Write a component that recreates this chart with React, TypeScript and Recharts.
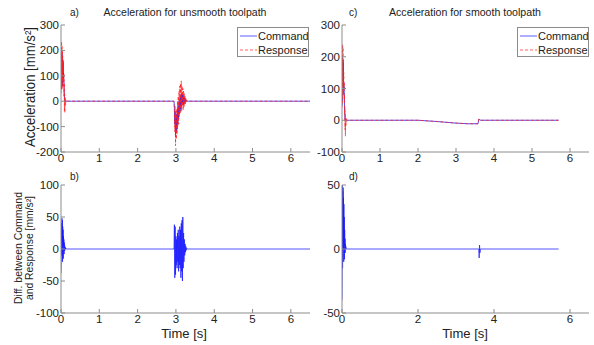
import React from 'react';
import { LineChart, Line, XAxis, YAxis, Legend } from 'recharts';

// time samples of the start-up burst (shared by all four panels)
const startTime = [0, 0.005, 0.01, 0.015, 0.02, 0.025, 0.03, 0.035, 0.04, 0.045, 0.05, 0.055, 0.06, 0.065, 0.07, 0.075, 0.08, 0.085, 0.09, 0.095, 0.1, 0.11, 0.12, 0.13, 0.14];
// time samples of the corner burst in the unsmooth path
const cornerTime = [2.95, 2.96, 2.97, 2.98, 2.99, 3.0, 3.01, 3.02, 3.03, 3.04, 3.05, 3.06, 3.07, 3.08, 3.09, 3.1, 3.11, 3.12, 3.13, 3.14, 3.15, 3.16, 3.17, 3.18, 3.19, 3.2, 3.21, 3.22, 3.23, 3.24, 3.25, 3.26, 3.27, 3.28, 3.29, 3.3];
const unsmoothEnd = [6.5];

// a) unsmooth toolpath acceleration [mm/s²]
const aCommandStart = [60, 180, 50, 200, 70, 190, 90, 170, 60, 150, 100, 160, 90, 110, 100, 80, 60, 30, 10, 0, 2, -1, 0, 0, 0];
const aResponseStart = [30, 210, 40, 235, 60, 220, 80, 200, 50, 180, 90, 150, 120, 140, 60, 110, 20, 70, -40, 30, -45, 15, -15, 5, 0];
const aCommandCorner = [0, -20, -90, -40, -140, -70, -120, -50, -110, -30, -90, -20, -70, 0, -50, 10, -40, 20, -30, 30, -20, 25, -10, 30, -15, 20, -10, 15, -5, 10, -3, 5, 0, 2, 0, 0];
const aResponseCorner = [0, -40, -120, -20, -175, -60, -150, -30, -130, 0, -100, 20, -90, 40, -60, 60, -50, 70, -30, 80, -40, 60, -20, 50, -35, 40, -25, 30, -15, 20, -10, 10, -5, 3, 0, 0];

// b) difference command - response [mm/s²]
const bDiffStart = [-38, -25, 5, 40, -10, 48, 15, 45, -20, 35, 10, 30, -15, 20, 5, 15, -8, 10, -3, 6, -2, 3, 0, 1, 0];
const bDiffCorner = [0, 38, -45, 35, -40, 20, -25, 15, -30, 25, -20, 30, -35, 20, -25, 35, -30, 30, -45, 40, -35, 45, -50, 50, -30, 25, -20, 15, -10, 8, -5, 4, -2, 1, 0, 0];

// c) smooth toolpath acceleration [mm/s²]
const cCommandStart = [45, 150, 60, 195, 80, 190, 100, 180, 95, 120, 100, 105, 90, 60, 30, 10, 0, 3, -2, 1, 0, 0, 0, 0, 0];
const cResponseStart = [40, 200, 50, 240, 70, 230, 90, 190, 80, 150, 100, 120, 60, 80, 20, 40, -30, 20, -50, 10, -20, 5, -5, 0, 0];
const smoothTailTime = [2.0, 2.5, 3.0, 3.3, 3.58, 3.6, 3.65, 5.7];
const cCommandTail = [0, -4, -9, -11, -11, 3, 0, 0];
const cResponseTail = [0, -4, -9, -11, -11, 4, 0, 0];

// d) difference for smooth toolpath [mm/s²]
const dDiffStart = [-40, -20, 50, -15, 45, 10, 48, 0, 40, -10, 35, 5, 25, -8, 15, 3, 8, -3, 4, 0, 2, 0, 0, 0, 0];
const dSpikeTime = [3.6, 3.61, 3.62, 3.63, 3.64, 5.7];
const dDiffSpike = [0, -7, 3, -3, 0, 0];

const ticksA = [-200, -100, 0, 100, 200, 300];
const ticksB = [-100, -50, 0, 50, 100];
const ticksC = [-100, 0, 100, 200, 300];
const ticksD = [-50, 0, 50];
const timeTicks = [0, 1, 2, 3, 4, 5, 6];
const timeTicksD = [0, 2, 4, 6];

const pts = (t: number[], v: number[]) => t.map((x, i) => ({ t: x, v: v[i] }));

const aCommand = pts([...startTime, ...cornerTime, ...unsmoothEnd], [...aCommandStart, ...aCommandCorner, 0]);
const aResponse = pts([...startTime, ...cornerTime, ...unsmoothEnd], [...aResponseStart, ...aResponseCorner, 0]);
const bDiff = pts([...startTime, ...cornerTime, ...unsmoothEnd], [...bDiffStart, ...bDiffCorner, 0]);
const cCommand = pts([...startTime, ...smoothTailTime], [...cCommandStart, ...cCommandTail]);
const cResponse = pts([...startTime, ...smoothTailTime], [...cResponseStart, ...cResponseTail]);
const dDiff = pts([...startTime, ...dSpikeTime], [...dDiffStart, ...dDiffSpike]);

const FONT = '"Liberation Sans", Arial, sans-serif';
const AXIS = '#8c8c8c';
const TXT = '#222';
const BLUE = '#1a1aff';
const RED = '#ff2020';

const BottomTick = (p: any) => (
  <g>
    <line x1={p.x} x2={p.x} y1={p.y} y2={p.y - 4} stroke={AXIS} />
    <text x={p.x} y={p.y + 10} textAnchor="middle" fontSize={11.5} fill={TXT} fontFamily={FONT}>{p.payload.value}</text>
  </g>
);
const LeftTick = (p: any) => (
  <g>
    <line x1={p.x} x2={p.x + 4} y1={p.y} y2={p.y} stroke={AXIS} />
    <text x={p.x - 2} y={p.y + 4} textAnchor="end" fontSize={11.5} fill={TXT} fontFamily={FONT}>{p.payload.value}</text>
  </g>
);
const TopTick = (p: any) => <line x1={p.x} x2={p.x} y1={p.y} y2={p.y + 4} stroke={AXIS} />;
const RightTick = (p: any) => <line x1={p.x} x2={p.x - 4} y1={p.y} y2={p.y} stroke={AXIS} />;

const LegendBox = () => (
  <div style={{ width: 70, height: 28, border: `1px solid ${AXIS}`, background: '#fff', fontFamily: FONT, fontSize: 11, color: TXT }}>
    <svg width={70} height={28}>
      <line x1={2} x2={19} y1={8} y2={8} stroke={BLUE} strokeOpacity={0.7} />
      <text x={20} y={12} fontSize={11} fill={TXT} fontFamily={FONT}>Command</text>
      <line x1={2} x2={19} y1={22} y2={22} stroke={RED} strokeOpacity={0.7} strokeDasharray="3 2" />
      <text x={20} y={26} fontSize={11} fill={TXT} fontFamily={FONT}>Response</text>
    </svg>
  </div>
);

interface PanelProps {
  left: number;
  top: number;
  width: number;
  height: number;
  margin: { top: number; right: number; left: number; bottom: number };
  yWidth: number;
  xHeight: number;
  yDomain: [number, number];
  yTicks: number[];
  xTicks: number[];
  lines: { data: { t: number; v: number }[]; color: string; dash?: string; name: string }[];
  legendLeft?: number;
}

function Panel(props: PanelProps) {
  const { left, top, width, height, margin, yWidth, xHeight, yDomain, yTicks, xTicks, lines, legendLeft } = props;
  return (
    <div style={{ position: 'absolute', left, top, width, height }}>
      <LineChart width={width} height={height} margin={margin}>
        <XAxis dataKey="t" type="number" domain={[0, 6.5]} ticks={xTicks} interval={0} height={xHeight}
          tickSize={0} tickMargin={0} tick={BottomTick} axisLine={{ stroke: AXIS }} tickLine={false} allowDataOverflow />
        <XAxis xAxisId="top" orientation="top" dataKey="t" type="number" domain={[0, 6.5]} ticks={xTicks} interval={0} height={0}
          tickSize={0} tickMargin={0} tick={TopTick} axisLine={{ stroke: AXIS }} tickLine={false} allowDataOverflow />
        <YAxis type="number" domain={yDomain} ticks={yTicks} interval={0} width={yWidth}
          tickSize={0} tickMargin={0} tick={LeftTick} axisLine={{ stroke: AXIS }} tickLine={false} allowDataOverflow />
        <YAxis yAxisId="right" orientation="right" type="number" domain={yDomain} ticks={yTicks} interval={0} width={0}
          tickSize={0} tickMargin={0} tick={RightTick} axisLine={{ stroke: AXIS }} tickLine={false} allowDataOverflow />
        {lines.map((l) => (
          <Line key={l.name} name={l.name} data={l.data} dataKey="v" type="linear" stroke={l.color} strokeOpacity={0.75}
            strokeWidth={1} strokeDasharray={l.dash} dot={false} isAnimationActive={false} />
        ))}
        {legendLeft !== undefined && (
          <Legend layout="vertical" align="center" verticalAlign="middle" content={LegendBox}
            wrapperStyle={{ left: legendLeft, top: 27, width: 72, height: 30 }} />
        )}
      </LineChart>
    </div>
  );
}

export default function App() {
  return (
    <div style={{ position: 'absolute', left: 0, top: 0, width: 594, height: 345, background: '#fff', fontFamily: FONT }}>
      <Panel left={0} top={0} width={320} height={170} margin={{ top: 25, right: 10, left: 0, bottom: 0 }}
        yWidth={61} xHeight={18} yDomain={[-200, 300]} yTicks={ticksA} xTicks={timeTicks} legendLeft={237}
        lines={[{ data: aCommand, color: BLUE, name: 'Command' }, { data: aResponse, color: RED, dash: '3 2', name: 'Response' }]} />
      <Panel left={300} top={0} width={294} height={170} margin={{ top: 25, right: 5, left: 0, bottom: 0 }}
        yWidth={42} xHeight={18} yDomain={[-100, 300]} yTicks={ticksC} xTicks={timeTicks} legendLeft={217}
        lines={[{ data: cCommand, color: BLUE, name: 'Command' }, { data: cResponse, color: RED, dash: '3 2', name: 'Response' }]} />
      <Panel left={0} top={170} width={320} height={175} margin={{ top: 15, right: 10, left: 0, bottom: 0 }}
        yWidth={61} xHeight={32} yDomain={[-100, 100]} yTicks={ticksB} xTicks={timeTicks}
        lines={[{ data: bDiff, color: BLUE, name: 'Diff' }]} />
      <Panel left={300} top={170} width={294} height={175} margin={{ top: 15, right: 5, left: 0, bottom: 0 }}
        yWidth={42} xHeight={32} yDomain={[-50, 50]} yTicks={ticksD} xTicks={timeTicksD}
        lines={[{ data: dDiff, color: BLUE, name: 'Diff' }]} />
      <svg width={594} height={345} style={{ position: 'absolute', left: 0, top: 0, pointerEvents: 'none' }} fontFamily={FONT} fill={TXT}>
        <text x={70} y={16} fontSize={10}>a)</text>
        <text x={185} y={16} fontSize={11} textAnchor="middle" textLength={163} lengthAdjust="spacingAndGlyphs">Acceleration for unsmooth toolpath</text>
        <text x={349} y={16} fontSize={10}>c)</text>
        <text x={465} y={16} fontSize={11} textAnchor="middle" textLength={152} lengthAdjust="spacingAndGlyphs">Acceleration for smooth toolpath</text>
        <text x={70} y={180} fontSize={10}>b)</text>
        <text x={349} y={180} fontSize={10}>d)</text>
        <text x={35} y={87} fontSize={14} textAnchor="middle" transform="rotate(-90 35 87)" textLength={120} lengthAdjust="spacingAndGlyphs">Acceleration [mm/s²]</text>
        <text x={22} y={248} fontSize={10} textAnchor="middle" transform="rotate(-90 22 248)" textLength={112} lengthAdjust="spacingAndGlyphs">Diff. between Command</text>
        <text x={33} y={248} fontSize={10} textAnchor="middle" transform="rotate(-90 33 248)" textLength={104} lengthAdjust="spacingAndGlyphs">and Response [mm/s²]</text>
        <text x={184} y={338} fontSize={13} textAnchor="middle">Time [s]</text>
        <text x={465} y={338} fontSize={13} textAnchor="middle">Time [s]</text>
      </svg>
    </div>
  );
}
